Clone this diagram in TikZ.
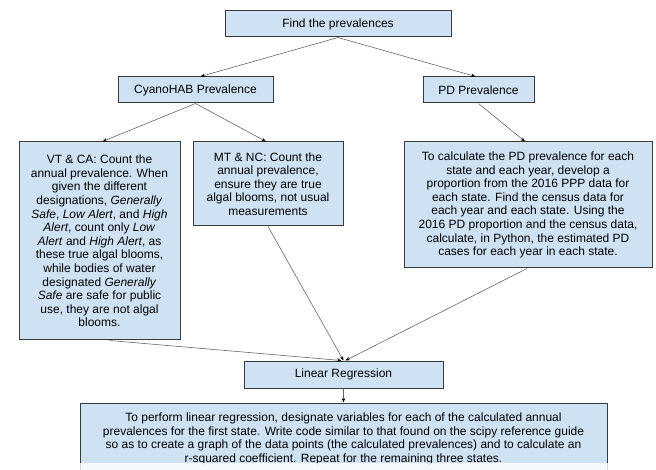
\documentclass[tikz,border=0pt]{standalone}
\usepackage{fontspec}
\setmainfont{Liberation Sans}
\usetikzlibrary{arrows.meta}
\definecolor{boxblue}{HTML}{CFE2F3}
\definecolor{edge}{HTML}{3A3A3A}
\tikzset{%
    blo/.style={rectangle, draw=edge, line width=1pt, fill=boxblue, align=center, inner sep=0pt, font=\fontsize{12}{13.6}\selectfont},
    pra/.style={draw=black!60, line width=0.6pt, -{Stealth[length=4.5pt, width=3.5pt, color=black]}}
}

\begin{document}
\begin{tikzpicture}[x=1pt, y=-1pt]
    \useasboundingbox (0,0) rectangle (656,470);
    \node[blo, minimum width=226pt, minimum height=26pt] (find) at (338,24) {Find the prevalences};
    \node[blo, minimum width=155pt, minimum height=26pt] (cyano) at (195.5,90) {CyanoHAB Prevalence};
    \node[blo, minimum width=111pt, minimum height=26pt] (pdprev) at (478.5,90) {PD Prevalence};
    \node[blo, minimum width=161pt, minimum height=198pt] (vtca) at (99.5,241) {VT \& CA: Count the\\annual prevalence. When\\given the different\\designations, \textit{Generally}\\\textit{Safe}, \textit{Low Alert}, and \textit{High}\\\textit{Alert}, count only \textit{Low}\\\textit{Alert} and \textit{High Alert}, as\\these true algal blooms,\\while bodies of water\\designated \textit{Generally}\\\textit{Safe} are safe for public\\use, they are not algal\\blooms.};
    \node[blo, minimum width=150pt, minimum height=84pt] (mtnc) at (268,184) {MT \& NC: Count the\\annual prevalence,\\ensure they are true\\algal blooms, not usual\\measurements};
    \node[blo, minimum width=248pt, minimum height=126pt] (pdcalc) at (528,205) {To calculate the PD prevalence for each\\state and each year, develop a\\proportion from the 2016 PPP data for\\each state. Find the census data for\\each year and each state. Using the\\2016 PD proportion and the census data,\\calculate, in Python, the estimated PD\\cases for each year in each state.};
    \node[blo, minimum width=199pt, minimum height=27pt] (linreg) at (343.5,374.5) {Linear Regression};
    \node[blo, minimum width=527pt, minimum height=72pt] (perform) at (343.5,439) {To perform linear regression, designate variables for each of the calculated annual\\prevalences for the first state. Write code similar to that found on the scipy reference guide\\so as to create a graph of the data points (the calculated prevalences) and to calculate an\\r-squared coefficient. Repeat for the remaining three states.};
    \draw[pra] (find.south) -- ([xshift=5pt]cyano.north);
    \draw[pra] (find.south) -- ([xshift=-3pt]pdprev.north);
    \draw[pra] (cyano.south) -- ([xshift=3pt]vtca.north);
    \draw[pra] (cyano.south) -- ([xshift=-2pt]mtnc.north);
    \draw[pra] (pdprev.south) -- ([xshift=-3pt]pdcalc.north);
    \draw[pra] ([xshift=10pt]vtca.south) -- ([xshift=-2pt]linreg.north);
    \draw[pra] (mtnc.south) -- (linreg.north);
    \draw[pra] ([xshift=-1pt]pdcalc.south) -- ([xshift=2pt]linreg.north);
    \draw[pra] (linreg.south) -- (perform.north);
    \fill[white, opacity=0.8] (0,463) rectangle (656,470);
\end{tikzpicture}
\end{document}
